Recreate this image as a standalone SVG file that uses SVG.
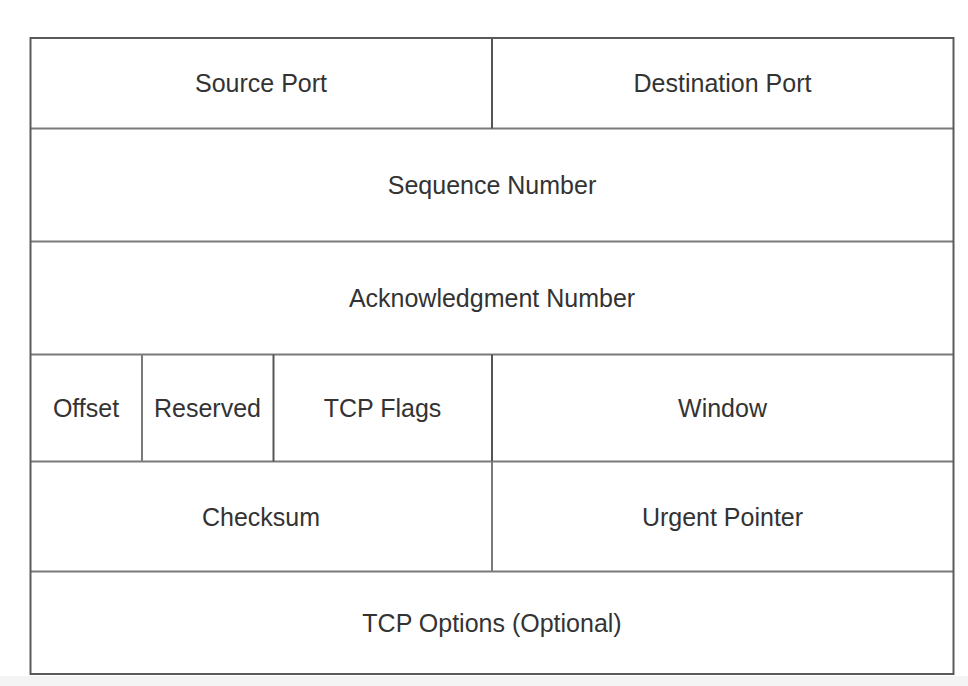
<svg xmlns="http://www.w3.org/2000/svg" width="968" height="686" viewBox="0 0 968 686">
<style>
.cell{fill:#fff;stroke:none}
.ln{stroke:#7a7a7a;stroke-width:2;fill:none}
.outer{stroke:#5a5a5a;stroke-width:2;fill:none}
text{font-family:"Liberation Sans",Arial,Helvetica,sans-serif;font-size:25px;fill:#333;text-anchor:middle;dominant-baseline:central}
</style>
<rect x="0" y="0" width="968" height="686" fill="#fff"/>
<rect x="0" y="676" width="968" height="10" fill="#f4f4f4"/>
<g id="connectors">
<line class="ln" x1="30.5" y1="128.5" x2="953.5" y2="128.5"/>
<line class="ln" x1="30.5" y1="241.5" x2="953.5" y2="241.5"/>
<line class="ln" x1="30.5" y1="354.5" x2="953.5" y2="354.5"/>
<line class="ln" x1="30.5" y1="461.5" x2="953.5" y2="461.5"/>
<line class="ln" x1="30.5" y1="571.5" x2="953.5" y2="571.5"/>
<line class="ln" x1="492" y1="38" x2="492" y2="128.5" style="stroke:#555"/>
<line class="ln" x1="492" y1="354.5" x2="492" y2="461.5" style="stroke:#555"/>
<line class="ln" x1="492" y1="461.5" x2="492" y2="571.5"/>
<line class="ln" x1="142" y1="354.5" x2="142" y2="461.5"/>
<line class="ln" x1="273.5" y1="354.5" x2="273.5" y2="461.5" style="stroke:#555"/>
<rect class="outer" x="30.5" y="38" width="923" height="636"/>
</g>
<g id="source-port"><text x="261" y="83">Source Port</text></g>
<g id="destination-port"><text x="722.5" y="83">Destination Port</text></g>
<g id="sequence-number"><text x="492" y="185">Sequence Number</text></g>
<g id="acknowledgment-number"><text x="492" y="298">Acknowledgment Number</text></g>
<g id="offset"><text x="86" y="408">Offset</text></g>
<g id="reserved"><text x="207.5" y="408">Reserved</text></g>
<g id="tcp-flags"><text x="382.5" y="408">TCP Flags</text></g>
<g id="window"><text x="722.5" y="408">Window</text></g>
<g id="checksum"><text x="261" y="516.5">Checksum</text></g>
<g id="urgent-pointer"><text x="722.5" y="516.5">Urgent Pointer</text></g>
<g id="tcp-options"><text x="492" y="623">TCP Options (Optional)</text></g>
</svg>
